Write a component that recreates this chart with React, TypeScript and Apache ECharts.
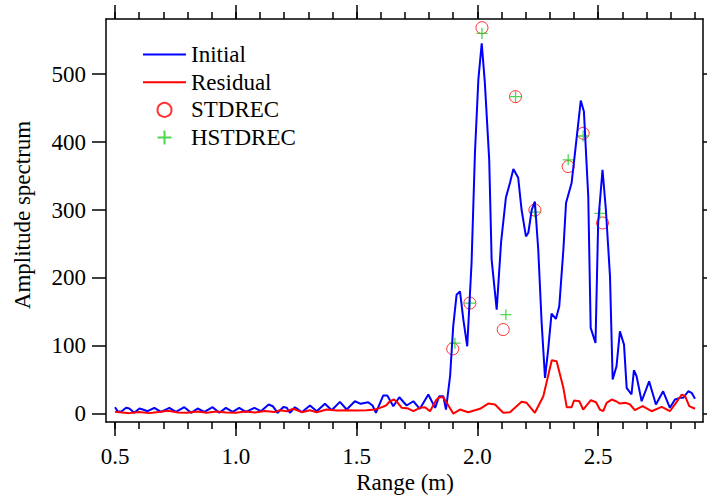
import React, { useEffect, useRef } from 'react';
import * as echarts from 'echarts';

const initialX = [
  0.500, 0.511, 0.525, 0.546, 0.559, 0.580, 0.601, 0.615, 0.635, 0.663, 0.690, 0.725, 0.752, 0.787, 0.815, 0.842, 0.870, 0.904, 0.932, 0.959,
  0.987, 1.014, 1.042, 1.077, 1.104, 1.136, 1.153, 1.173, 1.197, 1.211, 1.224, 1.245, 1.273, 1.307, 1.335, 1.369, 1.397, 1.431, 1.459, 1.493,
  1.517, 1.548, 1.566, 1.580, 1.610, 1.627, 1.652, 1.677, 1.707, 1.735, 1.762, 1.797, 1.825, 1.842, 1.859, 1.870, 1.887, 1.900, 1.914, 1.928,
  1.942, 1.958, 1.976, 1.990, 2.004, 2.018, 2.031, 2.049, 2.059, 2.080, 2.098, 2.118, 2.135, 2.149, 2.169, 2.183, 2.201, 2.211, 2.225, 2.238,
  2.252, 2.266, 2.280, 2.293, 2.307, 2.325, 2.339, 2.356, 2.367, 2.390, 2.404, 2.428, 2.441, 2.459, 2.469, 2.489, 2.500, 2.518, 2.532, 2.549,
  2.560, 2.576, 2.590, 2.607, 2.618, 2.638, 2.648, 2.659, 2.680, 2.711, 2.739, 2.769, 2.797, 2.818, 2.839, 2.852, 2.873, 2.887, 2.901,
];
const initialY = [
  9.7, 3.8, 2.9, 8.8, 7.8, 1.5, 7.8, 6.3, 3.8, 8.8, 2.9, 8.8, 2.9, 9.7, 1.5, 7.8, 2.9, 9.7, 1.5, 8.8,
  2.9, 8.8, 2.9, 8.8, 3.8, 13.7, 11.2, 1.5, 10, 8.8, 1.5, 9.7, 2.4, 12.2, 3.8, 14.7, 5.3, 17.6, 6.3, 18.5,
  14.7, 17.1, 12.2, 1.5, 26.9, 26.9, 11.2, 24.4, 12.2, 18.5, 7.4, 28.4, 8.8, 25.9, 25.9, 6.3, 55.3, 128.8, 175.4, 180.3,
  138.7, 99.4, 222.5, 384.3, 491.6, 545.6, 487.2, 373.9, 227.1, 153.4, 251.9, 318.1, 340.1, 360.3, 347.5, 300.4, 261.2, 266.6, 300.4, 312.6,
  241.6, 134.3, 52.9, 94.6, 147.5, 139.7, 158.2, 241.6, 310.3, 339.7, 383.8, 461.2, 445, 320, 126.5, 104.4, 280.9, 359.3, 300.4, 202.4,
  50.4, 70, 121.5, 101.9, 38.2, 28.4, 64.1, 55.3, 18.5, 47.9, 13.7, 33.2, 8.8, 21, 23.5, 23.5, 33.2, 30.9, 22.1,
];

const residualX = [
  0.50, 0.53, 0.56, 0.60, 0.64, 0.68, 0.72, 0.76, 0.80, 0.84, 0.88, 0.92, 0.96, 1.00, 1.04, 1.08, 1.12, 1.16, 1.183, 1.211,
  1.238, 1.273, 1.307, 1.335, 1.376, 1.418, 1.459, 1.500, 1.542, 1.576, 1.597, 1.622, 1.638, 1.655, 1.668, 1.687, 1.714, 1.735, 1.762, 1.783,
  1.804, 1.829, 1.842, 1.859, 1.873, 1.900, 1.928, 1.962, 2.011, 2.045, 2.073, 2.107, 2.135, 2.183, 2.204, 2.238, 2.273, 2.308, 2.328, 2.356,
  2.370, 2.390, 2.400, 2.422, 2.438, 2.470, 2.491, 2.507, 2.521, 2.535, 2.556, 2.574, 2.590, 2.615, 2.632, 2.652, 2.684, 2.721, 2.763, 2.797,
  2.822, 2.846, 2.860, 2.877, 2.901,
];
const residualY = [
  3, 2, 1, 2.5, 1, 2.5, 4.5, 2, 1.5, 3.5, 1.5, 3.5, 2, 1.5, 3.5, 2, 4, 2.5, 5.3, 3.8,
  7.4, 2.4, 5.3, 2.4, 6.3, 4.9, 5.3, 4.9, 5.3, 6.3, 8.8, 12.2, 18.5, 21, 17.1, 8.8, 7.8, 3.8, 8.8, 9.7,
  3.8, 20, 24.4, 24.4, 16.2, 0.4, 6.3, 2.4, 7.4, 15.1, 13.7, 1.5, 2.4, 17.6, 16.2, 1.5, 25.9, 78.8, 77.4, 38.2,
  9.7, 9.7, 19.6, 18.5, 6.3, 20, 17.1, 6.3, 3.8, 16.2, 21, 18.5, 15.1, 16.2, 13.7, 5.3, 11.2, 3.8, 10.3, 3.8,
  16.2, 28.4, 25.9, 11.2, 7.4,
];

const stdrecX = [1.898, 1.969, 2.019, 2.107, 2.158, 2.238, 2.376, 2.438, 2.518];
const stdrecY = [95.6, 163, 568.5, 124, 467, 300, 364, 413, 281];

const hstdrecX = [1.907, 1.969, 2.019, 2.118, 2.158, 2.238, 2.376, 2.438, 2.507];
const hstdrecY = [104, 163, 560, 146, 467, 297, 374, 409, 295];

const xMajorTicks = [0.5, 1.0, 1.5, 2.0, 2.5];
const xMinorTicks = [0.5, 0.6, 0.7, 0.8, 0.9, 1.0, 1.1, 1.2, 1.3, 1.4, 1.5, 1.6, 1.7, 1.8, 1.9, 2.0, 2.1, 2.2, 2.3, 2.4, 2.5, 2.6, 2.7, 2.8, 2.9];
const yTicks = [0, 100, 200, 300, 400, 500];

const FONT = "'Liberation Serif', 'Times New Roman', Times, 'DejaVu Serif', serif";
const X_MIN = 0.4627;
const X_MAX = 2.934;
const Y_MIN = -12.06;
const Y_MAX = 581.3;
const LINE_ICON = 'path://M0,0L43,0L43,2L0,2Z';

function pairs(xs: number[], ys: number[]) {
  return xs.map((x, i) => [x, ys[i]]);
}

export default function App() {
  const ref = useRef<HTMLDivElement>(null);
  useEffect(() => {
    document.body.style.margin = '0';
    const chart = echarts.init(ref.current!, null, { renderer: 'svg' });
    const black = '#000000';
    const baseX = (position: string, ticks: number[], len: number, labels: boolean, line: boolean) => ({
      type: 'value',
      position,
      min: X_MIN,
      max: X_MAX,
      axisLine: { show: line, onZero: false, lineStyle: { color: black, width: 1.5 } },
      axisTick: { show: true, inside: false, length: len, customValues: ticks, lineStyle: { color: black, width: 1.5 } },
      axisLabel: labels
        ? { show: true, customValues: xMajorTicks, formatter: (v: number) => v.toFixed(1), margin: 23, fontSize: 23, fontFamily: FONT, color: black }
        : { show: false },
      splitLine: { show: false },
    });
    const baseY = (position: string, labels: boolean) => ({
      type: 'value',
      position,
      min: Y_MIN,
      max: Y_MAX,
      axisLine: { show: true, onZero: false, lineStyle: { color: black, width: 1.5 } },
      axisTick: { show: true, inside: false, length: 14, customValues: yTicks, lineStyle: { color: black, width: 1.5 } },
      axisLabel: labels
        ? { show: true, customValues: yTicks, margin: 20, fontSize: 23, fontFamily: FONT, color: black }
        : { show: false },
      splitLine: { show: false },
    });
    chart.setOption({
      animation: false,
      backgroundColor: '#ffffff',
      textStyle: { fontFamily: FONT },
      grid: { left: 106, right: 4, top: 19, bottom: 73, containLabel: false },
      xAxis: [
        baseX('bottom', xMajorTicks, 14, true, true),
        baseX('bottom', xMinorTicks, 7, false, false),
        baseX('top', xMajorTicks, 14, false, true),
        baseX('top', xMinorTicks, 7, false, false),
      ],
      yAxis: [baseY('left', true), baseY('right', false)],
      legend: {
        orient: 'vertical',
        left: 138,
        top: 38,
        itemWidth: 43,
        itemHeight: 14,
        itemGap: 4.7,
        textStyle: { fontSize: 23, lineHeight: 22, fontFamily: FONT, color: black },
        data: [
          { name: 'Initial', icon: LINE_ICON },
          { name: 'Residual', icon: LINE_ICON },
          { name: 'STDREC' },
          { name: 'HSTDREC' },
        ],
      },
      graphic: [
        {
          type: 'text',
          x: 405,
          y: 482,
          style: { text: 'Range (m)', font: `23px ${FONT}`, fill: black, align: 'center', verticalAlign: 'middle' },
        },
        {
          type: 'text',
          x: 22,
          y: 215,
          rotation: Math.PI / 2,
          style: { text: 'Amplitude spectrum', font: `23px ${FONT}`, fill: black, align: 'center', verticalAlign: 'middle' },
        },
      ],
      series: [
        {
          name: 'Initial',
          type: 'line',
          data: pairs(initialX, initialY),
          symbol: 'none',
          showSymbol: false,
          color: '#0000ff',
          lineStyle: { color: '#0000ff', width: 2 },
        },
        {
          name: 'Residual',
          type: 'line',
          data: pairs(residualX, residualY),
          symbol: 'none',
          showSymbol: false,
          color: '#ff0000',
          lineStyle: { color: '#ff0000', width: 2 },
        },
        {
          name: 'STDREC',
          type: 'scatter',
          data: pairs(stdrecX, stdrecY),
          symbol: 'circle',
          symbolSize: 12,
          itemStyle: { color: 'rgba(0,0,0,0)', borderColor: '#ff0000', borderWidth: 1 },
        },
        {
          name: 'HSTDREC',
          type: 'scatter',
          data: pairs(hstdrecX, hstdrecY),
          symbol: 'path://M5,0L5,10M0,5L10,5',
          symbolSize: 11,
          itemStyle: { color: 'rgba(0,0,0,0)', borderColor: '#22cc22', borderWidth: 1.3 },
        },
      ],
    });
    return () => chart.dispose();
  }, []);
  return <div ref={ref} style={{ width: 707, height: 495 }} />;
}
